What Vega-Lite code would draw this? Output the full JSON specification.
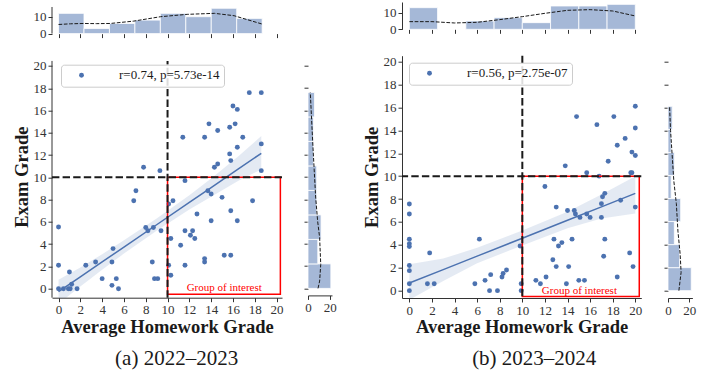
{
  "$schema": "https://vega.github.io/schema/vega-lite/v6.json",
  "padding": {"left": 12, "top": 1, "right": 5, "bottom": 5},
  "config": {
    "font": "Liberation Serif",
    "view": {"stroke": null},
    "axis": {"grid": false, "labelFont": "Liberation Serif", "labelFontSize": 13, "labelColor": "#333333", "titleFont": "Liberation Serif", "titleFontSize": 18.5, "titleFontWeight": "bold", "titleColor": "#1a1a1a", "domainColor": "#333333", "domainWidth": 1, "tickColor": "#333333", "tickSize": 4, "tickWidth": 1, "labelPadding": 2, "labelFlush": false, "labelOverlap": false, "labelSeparation": -30},
    "legend": {"orient": "top-left", "offset": 8, "padding": 4, "fillColor": "rgba(255,255,255,0.85)", "strokeColor": "#cccccc", "cornerRadius": 3, "labelFont": "Liberation Serif", "labelFontSize": 13, "labelColor": "#1a1a1a", "symbolType": "circle", "symbolSize": 24, "symbolOffset": 10, "labelOffset": 31},
    "title": {"font": "Liberation Serif", "fontSize": 21, "fontWeight": "normal", "color": "#1a1a1a"}
  },
  "datasets": {
    "ptsA": [
      {"x":0,"y":5.54},{"x":0,"y":2.1},{"x":0,"y":0},{"x":0.45,"y":0},{"x":0.9,"y":0},{"x":1.0,"y":1.5},{"x":1.2,"y":0.4},{"x":1.07,"y":0},{"x":1.7,"y":0},{"x":2.5,"y":2.1},
      {"x":3.4,"y":2.4},{"x":4.0,"y":0.9},{"x":5.0,"y":3.6},{"x":4.9,"y":2.4},{"x":4.9,"y":0.3},{"x":5.3,"y":0.9},{"x":5.5,"y":0},{"x":6.9,"y":7.9},{"x":7.1,"y":8.8},{"x":7.8,"y":10.9},
      {"x":8.0,"y":5.5},{"x":8.2,"y":5.2},{"x":8.7,"y":5.5},{"x":8.6,"y":2.4},{"x":8.8,"y":0.9},{"x":9.1,"y":0.9},{"x":9.3,"y":10.6},{"x":9.4,"y":5.2},{"x":10.1,"y":7.6},{"x":10.1,"y":2.1},
      {"x":10.3,"y":4.5},{"x":10.3,"y":1.2},{"x":10.5,"y":7.9},{"x":11.4,"y":13.6},{"x":11.6,"y":9.7},{"x":11.6,"y":5.2},{"x":11.6,"y":2.1},{"x":11.2,"y":3.9},{"x":12.1,"y":4.8},{"x":12.3,"y":5.2},
      {"x":12.5,"y":4.5},{"x":12.7,"y":6.7},{"x":13.4,"y":13.6},{"x":13.4,"y":2.7},{"x":13.4,"y":2.4},{"x":13.7,"y":8.8},{"x":13.8,"y":14.8},{"x":14.0,"y":8.5},{"x":14.0,"y":6.1},{"x":14.3,"y":10.9},
      {"x":14.6,"y":14.2},{"x":14.6,"y":11.2},{"x":15.0,"y":8.2},{"x":15.2,"y":3.0},{"x":15.7,"y":12.1},{"x":15.7,"y":14.5},{"x":15.8,"y":11.5},{"x":15.8,"y":7.0},{"x":15.8,"y":3.0},{"x":16.0,"y":16.4},
      {"x":16.2,"y":14.8},{"x":16.4,"y":16.1},{"x":16.4,"y":12.7},{"x":16.4,"y":6.1},{"x":16.9,"y":13.6},{"x":17.5,"y":17.6},{"x":17.8,"y":7.9},{"x":18.6,"y":17.6},{"x":18.6,"y":13.0},{"x":18.6,"y":10.6}
    ],
    "ptsB": [
      {"x":0,"y":7.57},{"x":0,"y":6.7},{"x":0,"y":4.5},{"x":0,"y":4.1},{"x":0,"y":3.85},{"x":0,"y":2.2},{"x":0,"y":1.75},{"x":0,"y":0.6},{"x":0,"y":0},{"x":1.6,"y":0.6},
      {"x":1.8,"y":3.3},{"x":2.2,"y":0.6},{"x":5.8,"y":0.6},{"x":6.2,"y":4.5},{"x":6.7,"y":0.9},{"x":7.1,"y":0},{"x":7.2,"y":1.4},{"x":7.8,"y":0},{"x":8.2,"y":1.2},{"x":8.3,"y":1.5},
      {"x":8.6,"y":1.8},{"x":9.8,"y":3.9},{"x":9.9,"y":0.6},{"x":9.9,"y":0},{"x":11.2,"y":0.9},{"x":11.6,"y":0.6},{"x":12.0,"y":9.1},{"x":12.1,"y":1.2},{"x":12.7,"y":2.7},{"x":12.8,"y":4.5},
      {"x":13.0,"y":7.3},{"x":13.0,"y":2.1},{"x":13.2,"y":3.9},{"x":13.5,"y":4.2},{"x":13.8,"y":10.9},{"x":13.9,"y":0.6},{"x":14.0,"y":7.0},{"x":14.1,"y":2.1},{"x":14.4,"y":4.5},{"x":14.6,"y":7.0},
      {"x":14.7,"y":6.7},{"x":14.8,"y":15.2},{"x":15.0,"y":0.9},{"x":15.1,"y":6.4},{"x":15.5,"y":0.9},{"x":15.7,"y":6.7},{"x":15.7,"y":10.3},{"x":16.0,"y":6.4},{"x":16.6,"y":14.5},{"x":16.8,"y":10.0},
      {"x":17.0,"y":6.4},{"x":17.0,"y":7.6},{"x":17.1,"y":8.2},{"x":17.2,"y":3.0},{"x":17.3,"y":4.5},{"x":17.3,"y":8.5},{"x":17.6,"y":11.3},{"x":18.1,"y":15.2},{"x":18.4,"y":12.7},{"x":18.4,"y":1.2},
      {"x":18.7,"y":7.9},{"x":19.1,"y":13.3},{"x":19.5,"y":3.3},{"x":19.6,"y":10.3},{"x":19.7,"y":10.3},{"x":19.7,"y":12.1},{"x":19.8,"y":2.1},{"x":20,"y":16.1},{"x":20,"y":14.2},{"x":20,"y":11.8},{"x":20,"y":7.3}
    ],
    "fitA": [
      {"x":0,"y":-0.27,"lo":-1.35,"hi":0.8},{"x":2,"y":1.07,"lo":0.2,"hi":1.9},{"x":4,"y":2.4,"lo":1.7,"hi":3.1},{"x":6,"y":3.74,"lo":3.15,"hi":4.35},{"x":9,"y":5.74,"lo":5.2,"hi":6.3},
      {"x":12,"y":7.75,"lo":7.1,"hi":8.4},{"x":14,"y":9.08,"lo":8.25,"hi":9.9},{"x":16.5,"y":10.75,"lo":9.7,"hi":11.9},{"x":18.6,"y":12.16,"lo":10.7,"hi":13.7}
    ],
    "fitB": [
      {"x":0,"y":0.67,"lo":-0.8,"hi":2.3},{"x":3,"y":1.84,"lo":0.85,"hi":2.8},{"x":6,"y":3.02,"lo":2.4,"hi":3.75},{"x":10,"y":4.58,"lo":3.95,"hi":5.25},
      {"x":14,"y":6.15,"lo":5.45,"hi":6.9},{"x":17,"y":7.32,"lo":6.3,"hi":8.4},{"x":20,"y":8.5,"lo":6.75,"hi":10.0}
    ],
    "histTopA": [
      {"x0":0,"x1":2.335,"n":12},{"x0":2.335,"x1":4.67,"n":3},{"x0":4.67,"x1":7.005,"n":6},{"x0":7.005,"x1":9.34,"n":8},
      {"x0":9.34,"x1":11.675,"n":12},{"x0":11.675,"x1":14.01,"n":10},{"x0":14.01,"x1":16.345,"n":15},{"x0":16.345,"x1":18.68,"n":9}
    ],
    "histTopB": [
      {"x0":0,"x1":2.5,"n":13},{"x0":5,"x1":7.5,"n":5},{"x0":7.5,"x1":10,"n":7},{"x0":10,"x1":12.5,"n":4},
      {"x0":12.5,"x1":15,"n":14},{"x0":15,"x1":17.5,"n":14},{"x0":17.5,"x1":20,"n":15}
    ],
    "histRightA": [
      {"y0":0,"y1":2.2,"n":21},{"y0":2.2,"y1":4.4,"n":9},{"y0":4.4,"y1":6.6,"n":12},{"y0":6.6,"y1":8.8,"n":8},
      {"y0":8.8,"y1":11,"n":8},{"y0":11,"y1":13.2,"n":5},{"y0":13.2,"y1":15.4,"n":5},{"y0":15.4,"y1":17.6,"n":6}
    ],
    "histRightB": [
      {"y0":0,"y1":2.0125,"n":22},{"y0":2.0125,"y1":4.025,"n":11},{"y0":4.025,"y1":6.0375,"n":6},{"y0":6.0375,"y1":8.05,"n":12},
      {"y0":8.05,"y1":10.0625,"n":3},{"y0":10.0625,"y1":12.075,"n":6},{"y0":12.075,"y1":14.0875,"n":3},{"y0":14.0875,"y1":16.1,"n":4}
    ],
    "kdeTopA": [
      {"x":0,"d":5.4},{"x":1.1,"d":5.8},{"x":2.3,"d":6.0},{"x":3.5,"d":5.9},{"x":4.75,"d":6.0},{"x":6.9,"d":7.4},{"x":9.35,"d":10},{"x":11.8,"d":11.4},{"x":14.3,"d":12},{"x":16.1,"d":10.6},{"x":18.7,"d":5.6}
    ],
    "kdeTopB": [
      {"x":0,"d":4.6},{"x":2,"d":4.6},{"x":4,"d":3.8},{"x":6,"d":4.2},{"x":8,"d":5.8},{"x":10,"d":7.6},{"x":12,"d":9.6},{"x":14,"d":11.4},{"x":16,"d":11.8},{"x":18,"d":11},{"x":20,"d":8}
    ],
    "kdeRightA": [
      {"y":0,"d":9.2},{"y":0.66,"d":10.7},{"y":2.15,"d":11.7},{"y":4.55,"d":10.7},{"y":6.0,"d":8.9},{"y":8.1,"d":7.1},{"y":12.6,"d":4.6},{"y":15.6,"d":3.1},{"y":17.6,"d":2.1}
    ],
    "kdeRightB": [
      {"y":0,"d":10.3},{"y":1.6,"d":12.4},{"y":3.2,"d":11.5},{"y":5.2,"d":9.4},{"y":7.6,"d":7.9},{"y":9.6,"d":5.5},{"y":11.9,"d":3.9},{"y":14,"d":2.4},{"y":16.05,"d":1.5}
    ]
  },
  "bounds": "flush",
  "columns": 5,
  "spacing": {"row": 21.7, "column": 26},
  "resolve": {"scale": {"x": "independent", "y": "independent", "color": "independent"}, "axis": {"x": "independent", "y": "independent"}, "legend": {"color": "independent"}},
  "concat": [
    {
      "width": 230, "height": 31.6,
      "layer": [
        {"data": {"name": "histTopA"}, "mark": {"type": "rect", "fill": "#4C72B0", "fillOpacity": 0.5, "stroke": "white", "strokeWidth": 0.8},
         "encoding": {
           "x": {"field": "x0", "type": "quantitative", "scale": {"domain": [-0.6, 20.5], "nice": false, "zero": false}, "axis": {"tickCount": 11, "labels": false, "domain": false, "title": null}},
           "x2": {"field": "x1"},
           "y": {"field": "n", "type": "quantitative", "scale": {"domain": [0, 18.71], "nice": false}, "axis": {"values": [0, 10], "domain": false, "title": null}},
           "y2": {"datum": 0}}},
        {"data": {"name": "kdeTopA"}, "mark": {"type": "line", "color": "#1a1a1a", "strokeWidth": 1, "strokeDash": [3.7, 1.6]},
         "encoding": {"x": {"field": "x", "type": "quantitative", "axis": {"labels": false, "title": null}}, "y": {"field": "d", "type": "quantitative", "axis": {"title": null}}}},
        {"data": {"values": [{}]}, "mark": {"type": "rule", "color": "#333333", "strokeWidth": 1},
         "encoding": {"x": {"datum": -0.6}, "y": {"datum": 0}, "y2": {"datum": 15.75}}}
      ]
    },
    {"width": 24, "height": 10, "data": {"values": [{}]}, "mark": {"type": "text", "text": ""}, "encoding": {}},
    {"width": 18, "height": 10, "data": {"values": [{}]}, "mark": {"type": "text", "text": ""}, "encoding": {}},
    {
      "width": 239.3, "height": 27.3,
      "layer": [
        {"data": {"name": "histTopB"}, "mark": {"type": "rect", "fill": "#4C72B0", "fillOpacity": 0.5, "stroke": "white", "strokeWidth": 0.8},
         "encoding": {
           "x": {"field": "x0", "type": "quantitative", "scale": {"domain": [-0.65, 20.53], "nice": false, "zero": false}, "axis": {"tickCount": 11, "labels": false, "domain": false, "title": null}},
           "x2": {"field": "x1"},
           "y": {"field": "n", "type": "quantitative", "scale": {"domain": [0, 16.4], "nice": false}, "axis": {"values": [0, 10], "title": null}},
           "y2": {"datum": 0}}},
        {"data": {"name": "kdeTopB"}, "mark": {"type": "line", "color": "#1a1a1a", "strokeWidth": 1, "strokeDash": [3.7, 1.6]},
         "encoding": {"x": {"field": "x", "type": "quantitative", "axis": {"labels": false, "title": null}}, "y": {"field": "d", "type": "quantitative", "axis": {"title": null}}}}
      ]
    },
    {"width": 24.4, "height": 10, "data": {"values": [{}]}, "mark": {"type": "text", "text": ""}, "encoding": {}},
    {
      "width": 230, "height": 242,
      "title": {"text": "(a) 2022–2023", "orient": "bottom", "frame": "group", "anchor": "middle", "dx": 9.6, "offset": 12},
      "layer": [
        {"data": {"name": "fitA"}, "mark": {"type": "area", "color": "#4C72B0", "opacity": 0.15, "clip": true},
         "encoding": {
           "x": {"field": "x", "type": "quantitative", "scale": {"domain": [-0.6, 20.5], "nice": false, "zero": false}, "axis": {"tickCount": 11, "title": "Average Homework Grade", "titlePadding": 0.5}},
           "y": {"field": "lo", "type": "quantitative", "scale": {"domain": [-0.81, 20.92], "nice": false, "zero": false}, "axis": {"tickCount": 11, "title": "Exam Grade", "titlePadding": 1.7, "domain": false}},
           "y2": {"field": "hi"}}},
        {"data": {"name": "ptsA"}, "mark": {"type": "point", "filled": true, "size": 24, "opacity": 1},
         "encoding": {
           "x": {"field": "x", "type": "quantitative", "axis": {"title": "Average Homework Grade"}},
           "y": {"field": "y", "type": "quantitative", "axis": {"title": "Exam Grade"}},
           "color": {"datum": "r=0.74, p=5.73e-14", "type": "nominal", "scale": {"range": ["#4C72B0"]}, "legend": {"title": null, "offset": 9, "labelFontSize": 13, "labelFont": "Liberation Serif"}}}},
        {"data": {"name": "fitA"}, "mark": {"type": "line", "color": "#4C72B0", "strokeWidth": 1.5},
         "encoding": {"x": {"field": "x", "type": "quantitative", "axis": {"title": "Average Homework Grade"}}, "y": {"field": "y", "type": "quantitative", "axis": {"title": "Exam Grade"}}}},
        {"data": {"values": [{}]}, "mark": {"type": "rect", "fill": "white", "fillOpacity": 0, "stroke": "red", "strokeWidth": 1.5},
         "encoding": {"x": {"datum": 10}, "x2": {"datum": 20.35}, "y": {"datum": -0.5}, "y2": {"datum": 10}}},
        {"data": {"values": [{}]}, "mark": {"type": "rule", "color": "#333333", "strokeWidth": 1},
         "encoding": {"x": {"datum": -0.6}, "y": {"datum": -0.81}, "y2": {"datum": 20.45}}},
        {"data": {"values": [{}]}, "mark": {"type": "rule", "color": "#1a1a1a", "strokeWidth": 2, "strokeDash": [7.4, 3.2]},
         "encoding": {"x": {"datum": 10}, "y": {"datum": -0.81}, "y2": {"datum": 20.45}}},
        {"data": {"values": [{}]}, "mark": {"type": "rule", "color": "#1a1a1a", "strokeWidth": 2, "strokeDash": [7.4, 3.2]},
         "encoding": {"y": {"datum": 10}}},
        {"data": {"values": [{}]}, "mark": {"type": "text", "text": "Group of interest", "color": "red", "font": "Liberation Serif", "fontSize": 11, "baseline": "middle", "align": "center"},
         "encoding": {"x": {"datum": 15.2}, "y": {"datum": 0.05}}}
      ]
    },
    {
      "width": 24, "height": 239.7,
      "layer": [
        {"data": {"name": "histRightA"}, "mark": {"type": "rect", "fill": "#4C72B0", "fillOpacity": 0.5, "stroke": "white", "strokeWidth": 0.8},
         "encoding": {
           "y": {"field": "y0", "type": "quantitative", "scale": {"domain": [-0.63, 20.9], "nice": false, "zero": false}, "axis": {"tickCount": 11, "labels": false, "domain": false, "title": null}},
           "y2": {"field": "y1"},
           "x": {"field": "n", "type": "quantitative", "scale": {"domain": [0, 22.05], "nice": false}, "axis": {"values": [0, 20], "title": null}},
           "x2": {"datum": 0}}},
        {"data": {"name": "kdeRightA"}, "mark": {"type": "line", "color": "#1a1a1a", "strokeWidth": 1, "strokeDash": [3.7, 1.6]},
         "encoding": {"x": {"field": "d", "type": "quantitative", "axis": {"title": null}}, "y": {"field": "y", "type": "quantitative", "axis": {"labels": false, "title": null}}, "order": {"field": "y", "type": "quantitative"}}}
      ]
    },
    {"width": 18, "height": 10, "data": {"values": [{}]}, "mark": {"type": "text", "text": ""}, "encoding": {}},
    {
      "width": 239.3, "height": 242.3,
      "title": {"text": "(b) 2023–2024", "orient": "bottom", "frame": "group", "anchor": "middle", "dx": 12.6, "offset": 12},
      "layer": [
        {"data": {"name": "fitB"}, "mark": {"type": "area", "color": "#4C72B0", "opacity": 0.15, "clip": true},
         "encoding": {
           "x": {"field": "x", "type": "quantitative", "scale": {"domain": [-0.65, 20.53], "nice": false, "zero": false}, "axis": {"tickCount": 11, "title": "Average Homework Grade", "titlePadding": 0.5}},
           "y": {"field": "lo", "type": "quantitative", "scale": {"domain": [-0.64, 20.52], "nice": false, "zero": false}, "axis": {"tickCount": 11, "title": "Exam Grade", "titlePadding": 1.7}},
           "y2": {"field": "hi"}}},
        {"data": {"name": "ptsB"}, "mark": {"type": "point", "filled": true, "size": 24, "opacity": 1},
         "encoding": {
           "x": {"field": "x", "type": "quantitative", "axis": {"title": "Average Homework Grade"}},
           "y": {"field": "y", "type": "quantitative", "axis": {"title": "Exam Grade"}},
           "color": {"datum": "r=0.56, p=2.75e-07", "type": "nominal", "scale": {"range": ["#4C72B0"]}, "legend": {"title": null, "offset": 7, "labelFontSize": 13, "labelFont": "Liberation Serif"}}}},
        {"data": {"name": "fitB"}, "mark": {"type": "line", "color": "#4C72B0", "strokeWidth": 1.5},
         "encoding": {"x": {"field": "x", "type": "quantitative", "axis": {"title": "Average Homework Grade"}}, "y": {"field": "y", "type": "quantitative", "axis": {"title": "Exam Grade"}}}},
        {"data": {"values": [{}]}, "mark": {"type": "rect", "fill": "white", "fillOpacity": 0, "stroke": "red", "strokeWidth": 1.5},
         "encoding": {"x": {"datum": 10}, "x2": {"datum": 20.35}, "y": {"datum": -0.5}, "y2": {"datum": 10}}},
        {"data": {"values": [{}]}, "mark": {"type": "rule", "color": "#1a1a1a", "strokeWidth": 2, "strokeDash": [7.4, 3.2]},
         "encoding": {"x": {"datum": 10}}},
        {"data": {"values": [{}]}, "mark": {"type": "rule", "color": "#1a1a1a", "strokeWidth": 2, "strokeDash": [7.4, 3.2]},
         "encoding": {"y": {"datum": 10}}},
        {"data": {"values": [{}]}, "mark": {"type": "text", "text": "Group of interest", "color": "red", "font": "Liberation Serif", "fontSize": 11, "baseline": "middle", "align": "center"},
         "encoding": {"x": {"datum": 15.05}, "y": {"datum": 0}}}
      ]
    },
    {
      "width": 24.4, "height": 242.3,
      "layer": [
        {"data": {"name": "histRightB"}, "mark": {"type": "rect", "fill": "#4C72B0", "fillOpacity": 0.5, "stroke": "white", "strokeWidth": 0.8},
         "encoding": {
           "y": {"field": "y0", "type": "quantitative", "scale": {"domain": [-0.64, 20.52], "nice": false, "zero": false}, "axis": {"tickCount": 11, "labels": false, "domain": false, "title": null}},
           "y2": {"field": "y1"},
           "x": {"field": "n", "type": "quantitative", "scale": {"domain": [0, 23.1], "nice": false}, "axis": {"values": [0, 20], "title": null}},
           "x2": {"datum": 0}}},
        {"data": {"name": "kdeRightB"}, "mark": {"type": "line", "color": "#1a1a1a", "strokeWidth": 1, "strokeDash": [3.7, 1.6]},
         "encoding": {"x": {"field": "d", "type": "quantitative", "axis": {"title": null}}, "y": {"field": "y", "type": "quantitative", "axis": {"labels": false, "title": null}}, "order": {"field": "y", "type": "quantitative"}}}
      ]
    }
  ]
}
